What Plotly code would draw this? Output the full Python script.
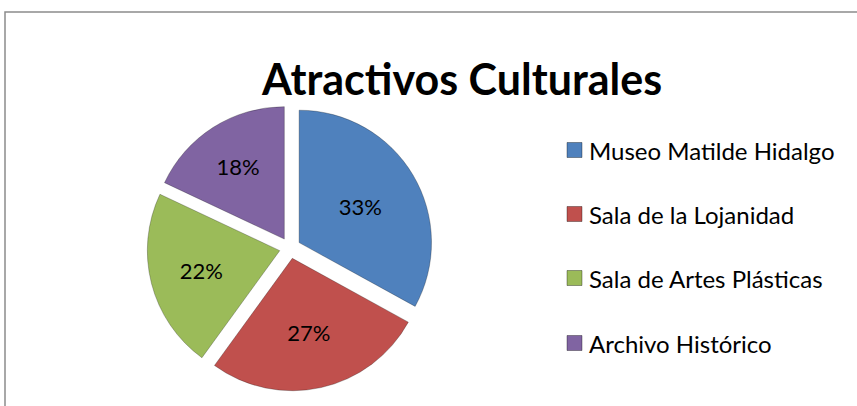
import plotly.graph_objects as go

labels = ["Museo Matilde Hidalgo", "Sala de la Lojanidad", "Sala de Artes Plásticas", "Archivo Histórico"]
values = [33, 27, 22, 18]
colors = ["#4F81BD", "#C0504D", "#9BBB59", "#8064A2"]
title_text = "Atractivos Culturales"

W, H = 857, 406
FONT = "Lato, 'Open Sans', sans-serif"

fig = go.Figure()
fig.add_trace(go.Pie(
    labels=labels,
    values=values,
    sort=False,
    direction="clockwise",
    rotation=0,
    pull=[0.08] * len(values),
    marker=dict(colors=colors, line=dict(color="rgba(0,0,0,0.25)", width=1)),
    textinfo="percent",
    texttemplate="%{percent:.0%}",
    textposition="inside",
    insidetextorientation="horizontal",
    textfont=dict(family=FONT, size=22, color="black"),
    showlegend=False,
    domain=dict(x=[(290 - 200) / W, (290 + 200) / W], y=[(H - 248 - 143) / H, (H - 248 + 143) / H]),
    hoverinfo="label+percent",
))

# chart-area frame
fig.add_shape(type="rect", xref="paper", yref="paper",
              x0=5 / W, x1=1.01, y0=-0.01, y1=(H - 12) / H,
              line=dict(color="#8C8C8C", width=1.5), fillcolor="rgba(0,0,0,0)")

# title
fig.add_annotation(text="<b>" + title_text + "</b>", xref="paper", yref="paper",
                   x=462 / W, y=(H - 78) / H, xanchor="center", yanchor="middle",
                   showarrow=False, font=dict(family=FONT, size=43, color="black"))

# legend (built from labels / colors)
leg_y = [150, 214, 278, 343]
for lab, col, yy in zip(labels, colors, leg_y):
    fig.add_shape(type="rect", xref="paper", yref="paper",
                  x0=567 / W, x1=582 / W, y0=(H - yy - 7.5) / H, y1=(H - yy + 7.5) / H,
                  fillcolor=col, line=dict(color="rgba(0,0,0,0.35)", width=1))
    fig.add_annotation(text=lab, xref="paper", yref="paper",
                       x=587 / W, y=(H - yy) / H, xanchor="left", yanchor="middle",
                       showarrow=False, font=dict(family=FONT, size=24, color="black"))

fig.update_layout(
    width=W, height=H,
    margin=dict(l=0, r=0, t=0, b=0),
    paper_bgcolor="white",
    plot_bgcolor="white",
)

fig.write_html("out.html")
